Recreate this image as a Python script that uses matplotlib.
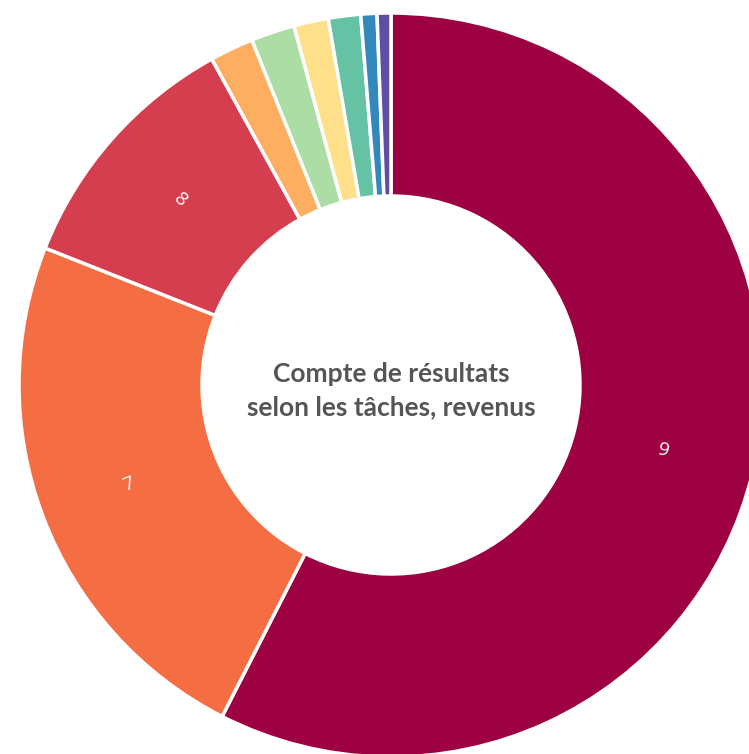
import matplotlib
matplotlib.use("Agg")
import matplotlib.pyplot as plt
import numpy as np

categories = ["9", "7", "8", "a", "b", "c", "d", "e", "f"]
values = [57.5, 23.5, 11.0, 1.9, 1.9, 1.5, 1.4, 0.7, 0.6]
shown_labels = ["9", "7", "8", "", "", "", "", "", ""]
colors = ["#9E0142", "#F46D43", "#D53E4F", "#FDAE61", "#ABDDA4",
          "#FEE08B", "#66C2A5", "#3288BD", "#5E4FA2"]
center_title = "Compte de résultats\nselon les tâches, revenus"

W, H = 749, 754
fig = plt.figure(figsize=(W / 100, H / 100), dpi=100)
ax = fig.add_axes([0, 0, 1, 1])
R_px = 372.0
cx, cy = 391.0, 385.0

inner = 189.0 / R_px
wedges, _ = ax.pie(values, colors=colors, startangle=90, counterclock=False,
                   radius=1.0, wedgeprops=dict(width=1 - inner, edgecolor="white", linewidth=2.5))

ax.set_aspect("auto")
ax.set_xlim(-cx / R_px, (W - cx) / R_px)
ax.set_ylim(-(H - cy) / R_px, cy / R_px)
ax.axis("off")

rmid = (1 + inner) / 2
for w, lab in zip(wedges, shown_labels):
    if not lab:
        continue
    ang = (w.theta1 + w.theta2) / 2
    a = np.deg2rad(ang)
    rot = ang % 360
    if 90 < rot <= 270:
        rot -= 180
    elif rot > 270:
        rot -= 360
    ax.text(rmid * np.cos(a), rmid * np.sin(a), lab, color="white",
            fontsize=14, ha="center", va="center", rotation=rot,
            rotation_mode="anchor", family="Open Sans")

ax.text(0, -0.015, center_title, ha="center", va="center", fontsize=19,
        fontweight="bold", color="#555555", family="Lato", linespacing=1.45)

fig.savefig("out.png", dpi=100)
